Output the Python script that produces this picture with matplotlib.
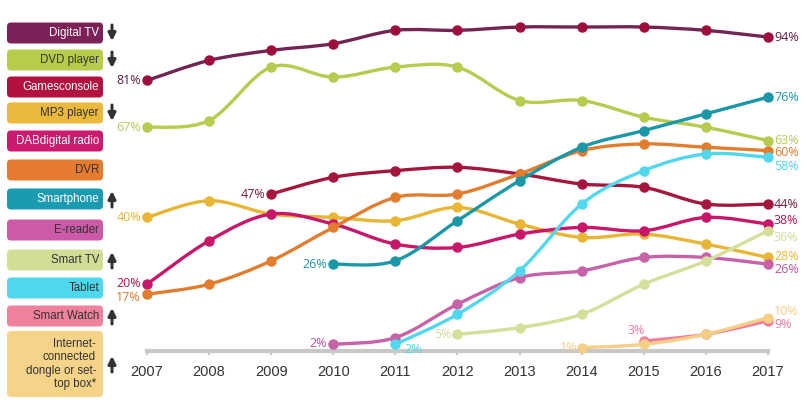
import numpy as np
import matplotlib
matplotlib.use("Agg")
import matplotlib.pyplot as plt
from matplotlib.path import Path
from matplotlib.patches import PathPatch, FancyBboxPatch

nan = np.nan
years = [2007, 2008, 2009, 2010, 2011, 2012, 2013, 2014, 2015, 2016, 2017]

names = ["Digital TV", "DVD player", "Gamesconsole", "MP3 player", "DABdigital radio", "DVR",
         "Smartphone", "E-reader", "Smart TV", "Tablet", "Smart Watch",
         "Internet-\nconnected\ndongle or set-\ntop box*"]
arrows = ["down", "down", "", "down", "", "", "up", "", "up", "", "up", "up"]

digital_tv = [81, 87, 90, 92, 96, 96, 97, 97, 97, 96, 94]
dvd_player = [67, 69, 85, 82, 85, 85, 75, 75, 70, 67, 63]
games_console = [nan, nan, 47, 52, 54, 55, 53, 50, 49, 44, 44]
mp3_player = [40, 45, 41, 40, 39, 43, 38, 34, 35, 32, 28]
dab_radio = [20, 33, 41, 38, 32, 31, 35, 37, 36, 40, 38]
dvr = [17, 20, 27, 37, 46, 47, 53, 60, 62, 61, 60]
smartphone = [nan, nan, nan, 26, 27, 39, 51, 61, 66, 71, 76]
e_reader = [nan, nan, nan, 2, 4, 14, 22, 24, 28, 28, 26]
smart_tv = [nan, nan, nan, nan, nan, 5, 7, 11, 20, 27, 36]
tablet = [nan, nan, nan, nan, 2, 11, 24, 44, 54, 59, 58]
smart_watch = [nan, nan, nan, nan, nan, nan, nan, nan, 3, 5, 9]
dongle = [nan, nan, nan, nan, nan, nan, nan, 1, 2, 5, 10]

series = [digital_tv, dvd_player, games_console, mp3_player, dab_radio, dvr,
          smartphone, e_reader, smart_tv, tablet, smart_watch, dongle]

box_colors = ["#7b2157", "#b8cc4c", "#b3123e", "#eab83a", "#cc1a6e", "#e57b2f",
              "#1b9bb0", "#cc5aa8", "#d2de96", "#4fd7ee", "#f0819c", "#f5d48a"]
line_colors = ["#722552", "#b5cc4e", "#a5163e", "#e8b634", "#c8176a", "#e27d2e",
               "#1b98a8", "#c862a8", "#d4e09a", "#52d8ee", "#ef7f9b", "#f5cf86"]
marker_colors = ["#9e0f3c", "#b5cc4e", "#a5163e", "#e8b634", "#c8176a", "#e27d2e",
                 "#1b98a8", "#c862a8", "#d4e09a", "#52d8ee", "#ef7f9b", "#f5cf86"]
label_colors = ["#5c1e45", "#b5c95a", "#7a1a40", "#e8b634", "#b0124f", "#e07b2c",
                "#1a95a5", "#b955a0", "#d0dc98", "#4dd4ea", "#ea7a9a", "#f2cf86"]
text_colors = ["white", "#333333", "white", "#333333", "white", "#333333",
               "white", "#333333", "#333333", "#333333", "#333333", "#333333"]

# label offsets in pixels (start, end) and alignment of start label
start_off = [(-6, 0), (-6, 0), (-6, 0), (-6, 0), (-6, 1), (-6, -3), (-6, 0), (-6, 1),
             (-6, 0), (9, -5), (-8, 10), (-4, 0)]
start_ha = ["right"] * 9 + ["left", "center", "right"]
end_off = [(6, 0), (6, 0), (6, 0), (6, 1), (6, 4), (6, -2), (6, 0), (6, -5),
           (6, -7), (6, -9), (6, -4), (6, 6)]


def smooth_path(x, y):
    x = np.asarray(x, float)
    y = np.asarray(y, float)
    pts = np.column_stack([x, y])
    verts = [pts[0]]
    codes = [Path.MOVETO]
    n = len(pts)
    for i in range(n - 1):
        p0 = pts[i - 1] if i > 0 else pts[i]
        p1 = pts[i]
        p2 = pts[i + 1]
        p3 = pts[i + 2] if i + 2 < n else pts[i + 1]
        c1 = p1 + (p2 - p0) / 6.0
        c2 = p2 - (p3 - p1) / 6.0
        verts += [c1, c2, p2]
        codes += [Path.CURVE4] * 3
    return Path(verts, codes)


fig = plt.figure(figsize=(8.07, 4.05), dpi=100)
ax = fig.add_axes([147 / 807, (405 - 351) / 405, 621 / 807, 334 / 405])
ax.set_xlim(2007, 2017)
ax.set_ylim(0, 100)

val_font = dict(family=["Open Sans", "DejaVu Sans"], fontsize=9)

for i, vals in enumerate(series):
    v = np.array(vals, float)
    m = ~np.isnan(v)
    xs = np.array(years)[m]
    ys = v[m]
    patch = PathPatch(smooth_path(xs, ys), facecolor="none", edgecolor=line_colors[i],
                      lw=2.4, zorder=2 + i * 0.1, clip_on=False, capstyle="round")
    ax.add_patch(patch)
    ax.plot(xs, ys, "o", ms=6.5, color=marker_colors[i], mec=marker_colors[i],
            zorder=2.05 + i * 0.1, clip_on=False)
    ax.annotate(f"{ys[0]:.0f}%", (xs[0], ys[0]), xytext=start_off[i],
                textcoords="offset pixels", ha=start_ha[i], va="center",
                color=label_colors[i], **val_font)
    ax.annotate(f"{ys[-1]:.0f}%", (xs[-1], ys[-1]), xytext=end_off[i],
                textcoords="offset pixels", ha="left", va="center",
                color=label_colors[i], **val_font)

for s in ["top", "right", "left"]:
    ax.spines[s].set_visible(False)
ax.spines["bottom"].set_bounds(2007, 2017)
ax.spines["bottom"].set_color("#c8c8c8")
ax.spines["bottom"].set_linewidth(3)
ax.spines["bottom"].set_zorder(1)
ax.set_yticks([])
ax.set_xticks(years)
ax.set_xticklabels([str(y) for y in years], family="Liberation Sans", fontsize=10.5,
                   color="#333333")
ax.tick_params(axis="x", length=3, width=1.5, color="#c8c8c8", pad=7)
ax.patch.set_alpha(0)

# legend column
lax = fig.add_axes([0, 0, 1, 1], zorder=-1)
lax.set_xlim(0, 807)
lax.set_ylim(405, 0)
lax.axis("off")
centers = [33, 60, 87, 113, 141, 170, 199, 230, 260, 288, 316, 364]
for i, name in enumerate(names):
    h = 66 if "\n" in name else 21
    top = centers[i] - h / 2
    lax.add_patch(FancyBboxPatch((7, top), 96, h, boxstyle="round,pad=0,rounding_size=4",
                                 facecolor=box_colors[i], edgecolor="none"))
    lax.text(99 if h == 21 else 96, centers[i], name, ha="right", va="center",
             family="Liberation Sans", fontsize=8.3, color=text_colors[i],
             linespacing=1.15)
    if arrows[i]:
        d = 1 if arrows[i] == "down" else -1
        lax.annotate("", xy=(112, centers[i] + 8 * d), xytext=(112, centers[i] - 8 * d),
                     arrowprops=dict(arrowstyle="-|>", lw=2.2, color="#333333",
                                     mutation_scale=11, shrinkA=0, shrinkB=0))

fig.savefig("out.png", dpi=100)
